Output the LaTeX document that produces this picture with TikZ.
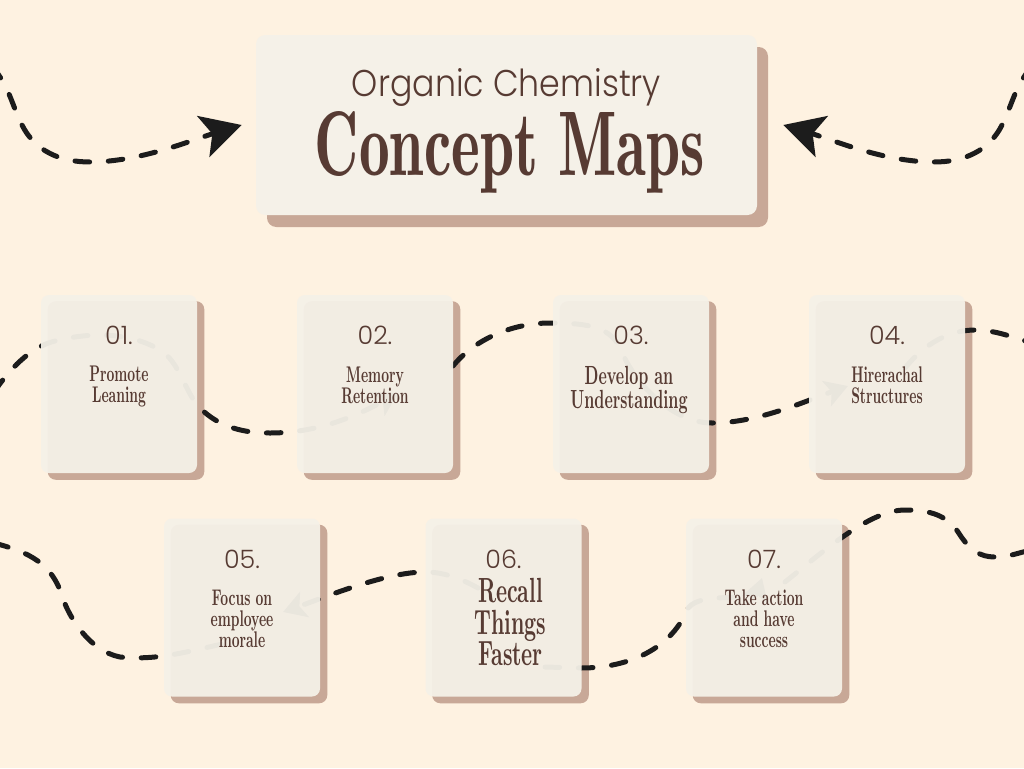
\documentclass[tikz,border=0pt]{standalone}
\usepackage{fontspec}
\usepackage{graphicx}
\usetikzlibrary{arrows.meta,shadows}
\IfFontExistsTF{Poppins Light}{\newfontfamily\lightsans{Poppins Light}}{\newfontfamily\lightsans{Poppins}}
\newfontfamily\condserif{lmroman10-bold.otf}[FakeStretch=0.6]
\newfontfamily\titleserif{lmromandemi10-regular.otf}
\definecolor{bg}{HTML}{FEF2E1}
\definecolor{boxc}{HTML}{F5F1E8}
\definecolor{shadowc}{HTML}{C8A897}
\definecolor{txt}{HTML}{573B33}
\definecolor{ink}{HTML}{1C1C1C}
\pgfdeclarelayer{shadowlayer}
\pgfsetlayers{shadowlayer,main}
\tikzset{
  card/.style={draw=none, fill=boxc, fill opacity=0.95, rounded corners=6pt,
    minimum width=117pt, minimum height=133.5pt, inner sep=0pt},
  cardshadow/.style={fill=shadowc, rounded corners=6pt},
  titlecard/.style={draw=none, fill=boxc, rounded corners=7pt,
    minimum width=375.75pt, minimum height=135pt, inner sep=0pt,
    drop shadow={shadow xshift=8.25pt, shadow yshift=-9pt, fill=shadowc, opacity=1}},
  numtext/.style={font=\lightsans\fontsize{19pt}{19pt}\selectfont, text=txt, anchor=base, inner sep=0pt},
  boxtext/.style={font=\condserif\fontsize{17pt}{15.75pt}\selectfont, text=txt, anchor=north, inner sep=0pt, align=center},
  wave/.style={draw=ink, line width=3.75pt, line cap=round, dash pattern=on 11pt off 14pt},
  smalltip/.style={-{Stealth[length=17pt,width=20pt,inset=4pt]}},
  bigtip/.style={-{Stealth[length=30pt,width=32pt,inset=7pt]}}
}
\begin{document}
\begin{tikzpicture}[x=0.75pt,y=-0.75pt]
\begin{pgfonlayer}{shadowlayer}
\fill[bg] (0,0) rectangle (1024,768);
\end{pgfonlayer}
\useasboundingbox (0,0) rectangle (1024,768);
\clip (0,0) rectangle (1024,768);

% ---------- row 1 connectors (under the cards)
\coordinate (a0) at (-6,392);
\coordinate (a1) at (55,341);
\coordinate (a2) at (160,350);
\coordinate (a3) at (200,408);
\coordinate (a4) at (270,433);
\coordinate (a5) at (398,393);
\draw[wave,smalltip] (a0) .. controls +(15,-22) and +(-25,6) .. (a1)
  .. controls +(35,-9) and +(-30,-18) .. (a2)
  .. controls +(20,12) and +(-15,-15) .. (a3)
  .. controls +(20,20) and +(-25,0) .. (a4)
  .. controls +(45,0) and +(-45,25) .. (a5);

\coordinate (b0) at (453,366);
\coordinate (b1c) at (550,323);
\coordinate (b2c) at (622,352);
\coordinate (b3c) at (712,423);
\coordinate (b4c) at (848,386);
\draw[wave,smalltip] (b0) .. controls +(20,-25) and +(-40,0) .. (b1c)
  .. controls +(40,0) and +(-10,-25) .. (b2c)
  .. controls +(12,30) and +(-40,0) .. (b3c)
  .. controls +(45,0) and +(-45,16) .. (b4c);

\coordinate (c0) at (905,368);
\coordinate (c1) at (975,330);
\coordinate (c2) at (1032,343);
\draw[wave] (c0) .. controls +(20,-25) and +(-25,0) .. (c1)
  .. controls +(20,0) and +(-20,-6) .. (c2);

% ---------- row 2 connectors
\coordinate (d0) at (-6,543);
\coordinate (d1) at (60,590);
\coordinate (d2) at (120,657);
\coordinate (d3) at (232,642);
\draw[wave] (d0) .. controls +(30,8) and +(-12,-30) .. (d1)
  .. controls +(8,28) and +(-30,-6) .. (d2)
  .. controls +(40,4) and +(-40,8) .. (d3);

\coordinate (e0) at (478,588);
\coordinate (e1) at (425,572);
\coordinate (e2) at (283,612);
\draw[wave,smalltip] (e0) .. controls +(-18,-10) and +(18,0) .. (e1)
  .. controls +(-40,0) and +(40,-14) .. (e2);

\coordinate (f0) at (545,667);
\coordinate (f1) at (581,668);
\coordinate (f2) at (686,612);
\coordinate (f3) at (762,578);
\draw[wave,smalltip] (f0) -- (f1)
  .. controls +(50,0) and +(-15,35) .. (f2)
  .. controls +(8,-23) and +(-8,25) .. (f3);

\coordinate (g0) at (785,582);
\coordinate (g1) at (905,510);
\coordinate (g2) at (960,535);
\coordinate (g3) at (995,557);
\coordinate (g4) at (1032,550);
\draw[wave] (g0) .. controls +(40,-32) and +(-35,0) .. (g1)
  .. controls +(25,0) and +(-12,-20) .. (g2)
  .. controls +(10,15) and +(-15,0) .. (g3)
  .. controls +(15,0) and +(-12,2) .. (g4);

% ---------- cards
\node[card] (n1) at (119,384) {};
\node[card] (n2) at (375,384) {};
\node[card] (n3) at (631,384) {};
\node[card] (n4) at (887,384) {};
\node[card] (n5) at (242,607.5) {};
\node[card] (n6) at (503.5,607.5) {};
\node[card] (n7) at (764,607.5) {};
\begin{pgfonlayer}{shadowlayer}
\foreach \k in {1,...,7}{
  \fill[cardshadow] ([shift={(7,6.5)}]n\k.south west) rectangle ([shift={(7,6.5)}]n\k.north east);
}
\end{pgfonlayer}

\node[numtext] (t1n) at ([yshift=30pt]n1.center) {01.};
\node[numtext] (t2n) at ([yshift=30pt]n2.center) {02.};
\node[numtext] (t3n) at ([yshift=30pt]n3.center) {03.};
\node[numtext] (t4n) at ([yshift=30pt]n4.center) {04.};
\node[numtext] (t5n) at ([yshift=29.6pt]n5.center) {05.};
\node[numtext] (t6n) at ([yshift=29.6pt]n6.center) {06.};
\node[numtext] (t7n) at ([yshift=29.6pt]n7.center) {07.};

\node[boxtext] (t1) at ([yshift=13.5pt]n1.center) {Promote\\Leaning};
\node[boxtext] (t2) at ([yshift=12.8pt]n2.center) {Memory\\Retention};
\node[boxtext, font=\condserif\fontsize{19.7pt}{18pt}\selectfont] (t3) at ([xshift=-1.5pt,yshift=13.5pt]n3.center) {Develop an\\Understanding};
\node[boxtext] (t4) at ([yshift=13.5pt]n4.center) {Hirerachal\\Structures};
\node[boxtext] (t5) at ([yshift=13pt]n5.center) {Focus on\\employee\\morale};
\node[boxtext, font=\condserif\fontsize{26.2pt}{23.6pt}\selectfont] (t6) at ([xshift=5.25pt,yshift=22pt]n6.center) {Recall\\Things\\Faster};
\node[boxtext] (t7) at ([yshift=13.5pt]n7.center) {Take action\\and have\\success};

% ---------- title
\node[titlecard] (title) at (506.5,125) {};
\node[anchor=base, inner sep=0pt, text=txt] (sub) at ([yshift=21.5pt]title.center)
  {\resizebox{231.75pt}{21pt}{\lightsans Organic Chemistry}};
\node[anchor=base, inner sep=0pt, text=txt] (main) at ([xshift=2.6pt,yshift=-37.5pt]title.center)
  {\resizebox{292.5pt}{48pt}{\titleserif Concept Maps}};

% ---------- top arrows
\coordinate (tl0) at (-8,66);
\coordinate (tl1) at (22,125);
\coordinate (tl2) at (90,162);
\coordinate (tlend) at ([xshift=-10.5pt]title.west);
\draw[wave,bigtip] (tl0) .. controls +(18,22) and +(-11,-22) .. (tl1)
  .. controls +(13,26) and +(-30,0) .. (tl2)
  .. controls +(50,0) and +(-50,15) .. (tlend);

\coordinate (tr0) at (1032,66);
\coordinate (tr1) at (1002,125);
\coordinate (tr2) at (934,162);
\coordinate (trend) at ([xshift=19.5pt]title.east);
\draw[wave,bigtip] (tr0) .. controls +(-18,22) and +(11,-22) .. (tr1)
  .. controls +(-13,26) and +(30,0) .. (tr2)
  .. controls +(-50,0) and +(50,15) .. (trend);
\end{tikzpicture}
\end{document}
